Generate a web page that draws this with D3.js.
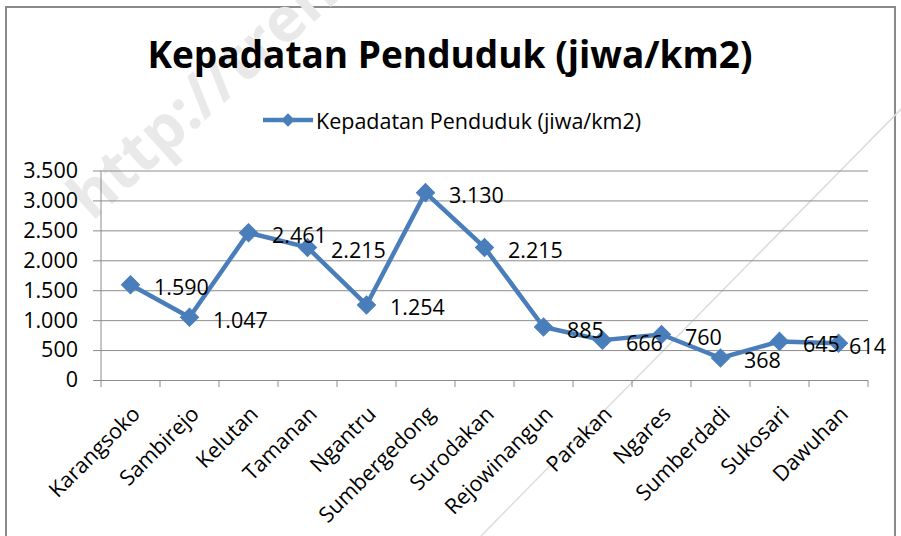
<!DOCTYPE html>
<html lang="id">
<head>
<meta charset="utf-8">
<title>Kepadatan Penduduk (jiwa/km2)</title>
<script src="https://cdn.jsdelivr.net/npm/d3@7/dist/d3.min.js"></script>
<style>
  html, body { margin: 0; padding: 0; background: #fff; }
  svg { display: block; font-family: "Open Sans", sans-serif; }
</style>
</head>
<body>
<div id="chart"></div>
<script>
// data
var desa = ["Karangsoko", "Sambirejo", "Kelutan", "Tamanan", "Ngantru", "Sumbergedong",
            "Surodakan", "Rejowinangun", "Parakan", "Ngares", "Sumberdadi", "Sukosari", "Dawuhan"];
var kepadatan = [1590, 1047, 2461, 2215, 1254, 3130, 2215, 885, 666, 760, 368, 645, 614];
var yTicks = [0, 500, 1000, 1500, 2000, 2500, 3000, 3500];
var judul = "Kepadatan Penduduk (jiwa/km2)";
var seriName = "Kepadatan Penduduk (jiwa/km2)";

var width = 901, height = 536;
var plot = {left: 101, right: 868, top: 170.5, bottom: 380};
var blue = "#4a7ebb";
var grid = "#8c8c8c";
var fs = 21.5;

// indonesian number format: 1.590
var idFmt = d3.formatLocale({decimal: ",", thousands: ".", grouping: [3], currency: ["Rp", ""]}).format(",d");

var svg = d3.select("#chart").append("svg")
    .attr("width", width)
    .attr("height", height);

// outer chart frame
svg.append("rect")
    .attr("x", 6).attr("y", 7)
    .attr("width", 889).attr("height", 560)
    .attr("fill", "#fff")
    .attr("stroke", "#8a8a8a")
    .attr("stroke-width", 2);

// watermark (partly cut by the frame top, as in the original)
svg.append("text")
    .attr("transform", "translate(92,222) rotate(-42)")
    .attr("font-size", 62)
    .attr("font-weight", "bold")
    .attr("fill", "#e9e9e9")
    .text("http://tren");
svg.append("line")
    .attr("x1", 905).attr("y1", 105)
    .attr("x2", 481).attr("y2", 536)
    .attr("stroke", "#dcdcdc")
    .attr("stroke-width", 1.5);

var x = d3.scaleBand()
    .domain(desa)
    .range([plot.left, plot.right])
    .padding(0);

var y = d3.scaleLinear()
    .domain([0, 3500])
    .range([plot.bottom, plot.top]);

// gridlines + y axis
var yAxis = d3.axisLeft(y)
    .tickValues(yTicks)
    .tickSize(8)
    .tickPadding(15)
    .tickFormat(idFmt);

var gy = svg.append("g")
    .attr("transform", "translate(" + plot.left + ",0)")
    .call(yAxis);
gy.select(".domain").remove();
gy.selectAll(".tick line")
    .attr("x1", -8)
    .attr("x2", plot.right - plot.left)
    .attr("stroke", grid);
gy.selectAll(".tick text")
    .attr("font-size", fs)
    .attr("font-family", "Open Sans")
    .attr("fill", "#000");

svg.append("line")
    .attr("x1", plot.left).attr("x2", plot.left)
    .attr("y1", plot.top).attr("y2", plot.bottom)
    .attr("stroke", grid);

// x axis, ticks between categories
var xTickPos = desa.map(function(d) { return x(d); }).concat([x.range()[1]]);
svg.selectAll(".xtick")
    .data(xTickPos)
    .enter().append("line")
    .attr("class", "xtick")
    .attr("x1", function(d) { return d; })
    .attr("x2", function(d) { return d; })
    .attr("y1", plot.bottom)
    .attr("y2", plot.bottom + 7)
    .attr("stroke", grid);

svg.selectAll(".xlabel")
    .data(desa)
    .enter().append("text")
    .attr("class", "xlabel")
    .attr("transform", function(d) {
        return "translate(" + (x(d) + x.bandwidth() / 2 + 5.5) + ",410) rotate(-45)";
    })
    .attr("text-anchor", "end")
    .attr("dy", "0.35em")
    .attr("font-size", fs)
    .attr("fill", "#000")
    .text(function(d) { return d; });

// series
var pts = desa.map(function(d, i) { return {nama: d, nilai: kepadatan[i]}; });

var line = d3.line()
    .x(function(d) { return x(d.nama) + x.bandwidth() / 2; })
    .y(function(d) { return y(d.nilai); });

svg.append("path")
    .datum(pts)
    .attr("d", line)
    .attr("fill", "none")
    .attr("stroke", blue)
    .attr("stroke-width", 4.5)
    .attr("stroke-linejoin", "round");

var diamond = d3.symbol().type(d3.symbolSquare).size(165);

svg.selectAll(".marker")
    .data(pts)
    .enter().append("path")
    .attr("class", "marker")
    .attr("d", diamond)
    .attr("transform", function(d) {
        return "translate(" + (x(d.nama) + x.bandwidth() / 2) + "," + y(d.nilai) + ") rotate(45)";
    })
    .attr("fill", blue)
    .attr("stroke", blue);

// data labels to the right of each point
svg.selectAll(".vlabel")
    .data(pts)
    .enter().append("text")
    .attr("class", "vlabel")
    .attr("x", function(d) { return x(d.nama) + x.bandwidth() / 2 + 23.5; })
    .attr("y", function(d) { return y(d.nilai) + 3; })
    .attr("dy", "0.35em")
    .attr("font-size", fs)
    .attr("fill", "#000")
    .text(function(d) { return idFmt(d.nilai); })
    .each(function() {
        // keep inside the chart frame like excel does
        var w = this.getComputedTextLength();
        var x0 = +d3.select(this).attr("x");
        if (x0 + w > 886) d3.select(this).attr("x", 886 - w);
    });

// title
svg.append("text")
    .attr("x", 450)
    .attr("y", 68)
    .attr("text-anchor", "middle")
    .attr("font-size", 37)
    .attr("font-weight", "bold")
    .attr("fill", "#000")
    .text(judul);

// legend
var leg = svg.append("g").attr("transform", "translate(263,120)");
leg.append("line")
    .attr("x1", 0).attr("x2", 50)
    .attr("stroke", blue)
    .attr("stroke-width", 4.5);
leg.append("path")
    .attr("d", d3.symbol().type(d3.symbolSquare).size(90))
    .attr("transform", "translate(25,0) rotate(45)")
    .attr("fill", blue);
leg.append("text")
    .attr("x", 53)
    .attr("y", 1)
    .attr("dy", "0.35em")
    .attr("font-size", fs)
    .attr("fill", "#000")
    .text(seriName);
</script>
</body>
</html>
